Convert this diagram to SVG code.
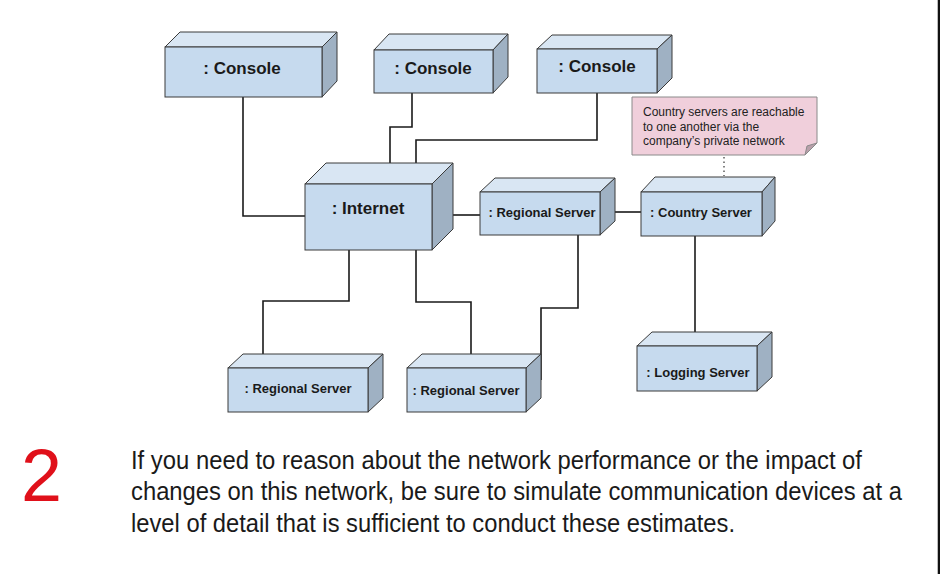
<svg xmlns="http://www.w3.org/2000/svg" width="940" height="574" viewBox="0 0 940 574">
  <style>
    .front { fill: #c6daee; stroke: #3a3a3a; stroke-width: 1; }
    .top { fill: #d9e6f3; stroke: #3a3a3a; stroke-width: 1; }
    .side { fill: #9fb1c3; stroke: #3a3a3a; stroke-width: 1; }
    .lbl { font-family: "Liberation Sans", Arial, sans-serif; font-weight: bold; fill: #1a1a1a; text-anchor: middle; }
    .big { font-size: 17px; }
    .small { font-size: 13px; }
    .wire { fill: none; stroke: #1a1a1a; stroke-width: 1.6; }
    .note { fill: #f0cfdb; stroke: #8a8a8a; stroke-width: 1; }
    .notetxt { font-family: "Liberation Sans", Arial, sans-serif; font-size: 12px; fill: #222; }
    .para { font-family: "Liberation Sans Narrow", "Liberation Sans", Arial, sans-serif; font-size: 25px; fill: #1a1a1a; }
  </style>

  <rect x="0" y="0" width="940" height="574" fill="#ffffff"/>
  <rect x="937" y="0" width="1" height="574" fill="#bdbdbd"/>
  <rect x="938" y="0" width="2" height="574" fill="#111111"/>

  <!-- links between nodes -->
  <g id="connectors">
    <polyline class="wire" points="243,97 243,216 305,216"/>
    <polyline class="wire" points="412,93 412,127 390,127 390,163"/>
    <polyline class="wire" points="597,93 597,140 416,140 416,163"/>
    <line class="wire" x1="453" y1="215" x2="480" y2="215"/>
    <line class="wire" x1="615" y1="212" x2="641" y2="212"/>
    <polyline class="wire" points="349,250 349,301 263,301 263,354"/>
    <polyline class="wire" points="416,250 416,302 471,302 471,354"/>
    <polyline class="wire" points="578,235 578,308 541,308 541,380"/>
    <line class="wire" x1="695" y1="236" x2="695" y2="332"/>
    <line x1="724" y1="157" x2="724" y2="176" stroke="#333" stroke-width="1.2" stroke-dasharray="1.5,3"/>
  </g>

  <g id="console1">
    <polygon class="top" points="165,47 180,32 337,32 322,47"/>
    <polygon class="side" points="322,47 337,32 337,81 322,97"/>
    <rect class="front" x="165" y="47" width="157" height="50"/>
    <text class="lbl big" x="242" y="74">: Console</text>
  </g>

  <g id="console2">
    <polygon class="top" points="374,50 389,34 508,34 493,50"/>
    <polygon class="side" points="493,50 508,34 508,77 493,93"/>
    <rect class="front" x="374" y="50" width="119" height="43"/>
    <text class="lbl big" x="433" y="74">: Console</text>
  </g>

  <g id="console3">
    <polygon class="top" points="537,49 552,35 672,35 657,49"/>
    <polygon class="side" points="657,49 672,35 672,78 657,93"/>
    <rect class="front" x="537" y="49" width="120" height="44"/>
    <text class="lbl big" x="597" y="72">: Console</text>
  </g>

  <g id="note">
    <polygon class="note" points="632,97 817,97 817,143 805,155 632,155"/>
    <polygon points="805,155 807,146 817,143" fill="#b8a0aa" stroke="#8a8a8a" stroke-width="1"/>
    <text class="notetxt" x="643" y="116">Country servers are reachable</text>
    <text class="notetxt" x="643" y="131">to one another via the</text>
    <text class="notetxt" x="643" y="145">company’s private network</text>
  </g>

  <g id="internet">
    <polygon class="top" points="305,184 326,163 453,163 432,184"/>
    <polygon class="side" points="432,184 453,163 453,229 432,250"/>
    <rect class="front" x="305" y="184" width="127" height="66"/>
    <text class="lbl big" x="368" y="214">: Internet</text>
  </g>

  <g id="regional-top">
    <polygon class="top" points="480,192 495,178 615,178 600,192"/>
    <polygon class="side" points="600,192 615,178 615,221 600,235"/>
    <rect class="front" x="480" y="192" width="120" height="43"/>
    <text class="lbl small" x="542" y="217">: Regional Server</text>
  </g>

  <g id="country">
    <polygon class="top" points="641,192 655,177 775,177 762,192"/>
    <polygon class="side" points="762,192 775,177 775,221 762,236"/>
    <rect class="front" x="641" y="192" width="121" height="44"/>
    <text class="lbl small" x="701" y="217">: Country Server</text>
  </g>

  <g id="regional-left">
    <polygon class="top" points="228,368 243,354 383,354 368,368"/>
    <polygon class="side" points="368,368 383,354 383,398 368,412"/>
    <rect class="front" x="228" y="368" width="140" height="44"/>
    <text class="lbl small" x="298" y="393">: Regional Server</text>
  </g>

  <g id="regional-mid">
    <polygon class="top" points="407,368 422,354 541,354 526,368"/>
    <polygon class="side" points="526,368 541,354 541,398 526,412"/>
    <rect class="front" x="407" y="368" width="119" height="44"/>
    <text class="lbl small" x="466" y="395">: Regional Server</text>
  </g>

  <g id="logging">
    <polygon class="top" points="637,346 652,332 772,332 757,346"/>
    <polygon class="side" points="757,346 772,332 772,377 757,391"/>
    <rect class="front" x="637" y="346" width="120" height="45"/>
    <text class="lbl small" x="698" y="377">: Logging Server</text>
  </g>

  <text x="21" y="501" font-family="Liberation Sans Narrow, Liberation Sans, Arial, sans-serif" font-size="74" fill="#e0101a" textLength="41" lengthAdjust="spacingAndGlyphs">2</text>
  <text class="para" x="131" y="469" textLength="731" lengthAdjust="spacingAndGlyphs">If you need to reason about the network performance or the impact of</text>
  <text class="para" x="131" y="500" textLength="771" lengthAdjust="spacingAndGlyphs">changes on this network, be sure to simulate communication devices at a</text>
  <text class="para" x="131" y="532" textLength="604" lengthAdjust="spacingAndGlyphs">level of detail that is sufficient to conduct these estimates.</text>
</svg>
